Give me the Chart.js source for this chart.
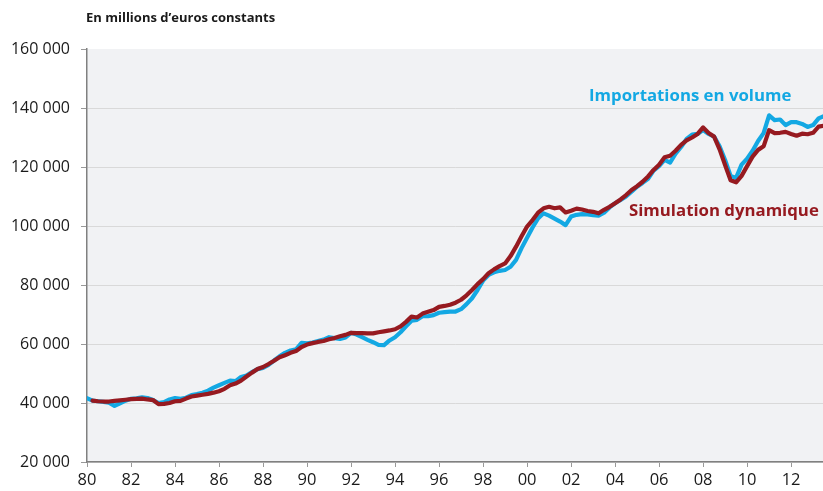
<!DOCTYPE html>
<html><head><meta charset="utf-8">
<script src="https://cdn.jsdelivr.net/npm/chart.js@4"></script>
<style>html,body{margin:0;padding:0;background:#fff}#wrap{width:823px;height:491px;position:relative}</style>
</head><body><div id="wrap"><canvas id="c" width="823" height="491"></canvas></div>
<script>
// Quarterly series, first value = 1980 Q1 (thousands of millions of constant euros)
const START_YEAR = 1980;
const importations = [
  41.6, 40.8, 40.6, 40.4,   // 1980
  40.1, 39.0, 39.9, 40.8,   // 1981
  41.4, 41.6, 41.9, 41.7,   // 1982
  41.0, 40.0, 40.3, 41.2,   // 1983
  41.7, 41.4, 41.8, 42.7,   // 1984
  43.0, 43.5, 44.2, 45.2,   // 1985
  46.0, 46.8, 47.6, 47.4,   // 1986
  48.8, 49.3, 50.5, 51.5,   // 1987
  51.9, 52.9, 54.4, 55.8,   // 1988
  57.0, 57.8, 58.2, 60.4,   // 1989
  60.2, 60.5, 61.0, 61.5,   // 1990
  62.3, 62.0, 61.7, 62.2,   // 1991
  63.8, 63.2, 62.3, 61.4,   // 1992
  60.6, 59.7, 59.6, 61.2,   // 1993
  62.3, 64.0, 66.0, 67.9,   // 1994
  68.2, 69.4, 69.4, 69.8,   // 1995
  70.6, 70.8, 71.0, 71.0,   // 1996
  71.8, 73.5, 75.5, 78.3,   // 1997
  81.5, 83.4, 84.3, 84.8,   // 1998
  85.1, 86.2, 88.5, 92.5,   // 1999
  96.0, 99.5, 102.6, 104.3, // 2000
  103.5, 102.5, 101.5, 100.3, // 2001
  103.2, 103.8, 104.0, 103.9, // 2002
  103.7, 103.5, 104.5, 106.3, // 2003
  107.7, 108.8, 110.0, 111.6, // 2004
  113.3, 114.6, 116.0, 118.8, // 2005
  120.3, 122.4, 121.5, 124.5, // 2006
  126.8, 129.5, 131.0, 131.2, // 2007
  132.5, 131.2, 130.3, 127.0, // 2008
  122.4, 117.0, 116.3, 120.8, // 2009
  122.8, 125.5, 128.8, 131.5, // 2010
  137.5, 135.9, 136.1, 134.2, // 2011
  135.2, 135.2, 134.6, 133.6, // 2012
  134.2, 136.5, 137.3         // 2013
];
const simulation = [
  null, 40.8, 40.6, 40.5,   // 1980
  40.5, 40.7, 40.9, 41.1,   // 1981
  41.3, 41.4, 41.5, 41.2,   // 1982
  41.0, 39.6, 39.7, 40.0,   // 1983
  40.6, 40.7, 41.5, 42.2,   // 1984
  42.5, 42.8, 43.1, 43.5,   // 1985
  44.0, 44.8, 46.0, 46.6,   // 1986
  47.6, 49.0, 50.3, 51.5,   // 1987
  52.2, 53.2, 54.3, 55.5,   // 1988
  56.2, 57.0, 57.6, 59.0,   // 1989
  59.8, 60.3, 60.7, 61.0,   // 1990
  61.6, 62.0, 62.6, 63.1,   // 1991
  63.8, 63.7, 63.7, 63.6,   // 1992
  63.6, 64.0, 64.3, 64.6,   // 1993
  65.0, 66.0, 67.5, 69.3,   // 1994
  69.0, 70.3, 70.9, 71.5,   // 1995
  72.6, 72.9, 73.3, 74.0,   // 1996
  75.0, 76.5, 78.3, 80.3,   // 1997
  82.0, 84.0, 85.3, 86.4,   // 1998
  87.3, 89.8, 93.0, 96.5,   // 1999
  99.8, 102.0, 104.5, 106.0, // 2000
  106.5, 106.0, 106.3, 104.6, // 2001
  105.2, 105.9, 105.6, 105.1, // 2002
  104.8, 104.3, 105.5, 106.5, // 2003
  107.7, 109.0, 110.5, 112.2, // 2004
  113.5, 115.0, 116.8, 119.0, // 2005
  120.8, 123.3, 123.8, 125.5, // 2006
  127.5, 129.0, 130.0, 131.2, // 2007
  133.4, 131.5, 130.3, 126.0, // 2008
  120.7, 115.5, 114.8, 117.0, // 2009
  120.3, 123.5, 125.8, 127.0, // 2010
  132.5, 131.5, 131.6, 131.9, // 2011
  131.2, 130.6, 131.3, 131.1, // 2012
  131.6, 133.7, 134.0         // 2013
];
const xTickYears = [1980,1982,1984,1986,1988,1990,1992,1994,1996,1998,2000,2002,2004,2006,2008,2010,2012];
const yTickValues = [20000,40000,60000,80000,100000,120000,140000,160000];
const titleText = "En millions d\u2019euros constants";
const labelImport = "Importations en volume";
const labelSim = "Simulation dynamique";

const BLUE = '#13a8e3';
const RED = '#961a20';
const FONT = "'Open Sans', sans-serif";

const toPoints = arr => arr.map((v, i) => ({x: START_YEAR + i / 4, y: v === null ? null : v * 1000}));

const bgPlugin = {
  id: 'bg',
  beforeDraw(chart) {
    const {ctx, chartArea: a} = chart;
    ctx.save();
    ctx.fillStyle = '#f1f2f4';
    ctx.fillRect(a.left, a.top, a.right - a.left, a.bottom - a.top);
    ctx.restore();
  },
  afterDraw(chart) {
    const {ctx} = chart;
    ctx.save();
    ctx.textBaseline = 'middle';
    ctx.fillStyle = '#1a1a1a';
    ctx.font = "bold 13px " + FONT;
    ctx.fillText(titleText, 86, 18);
    ctx.font = "bold 16.8px " + FONT;
    ctx.fillStyle = BLUE;
    ctx.fillText(labelImport, 589, 96);
    ctx.fillStyle = RED;
    ctx.fillText(labelSim, 629, 211);
    ctx.restore();
  }
};

new Chart(document.getElementById('c'), {
  type: 'line',
  data: {
    datasets: [
      {label: labelImport, order: 2, data: toPoints(importations), borderColor: BLUE, borderWidth: 4.2, pointRadius: 0, tension: 0, borderJoinStyle: 'round', borderCapStyle: 'round'},
      {label: labelSim, order: 1, data: toPoints(simulation), borderColor: RED, borderWidth: 4.2, pointRadius: 0, tension: 0, borderJoinStyle: 'round', borderCapStyle: 'round'}
    ]
  },
  options: {
    responsive: false,
    animation: false,
    devicePixelRatio: 1,
    layout: {padding: {top: 49, right: 0, left: 0, bottom: 0}},
    plugins: {legend: {display: false}, tooltip: {enabled: false}},
    scales: {
      x: {
        type: 'linear', min: 1980, max: 2013.45,
        afterFit: s => { s.height = 29; },
        afterBuildTicks: s => { s.ticks = xTickYears.map(v => ({value: v})); },
        ticks: {
          callback: v => String(v % 100).padStart(2, '0'),
          font: {family: FONT, size: 16.5}, color: '#1a1a1a', padding: 3, maxRotation: 0, autoSkip: false
        },
        grid: {drawOnChartArea: false, tickLength: 5, tickColor: '#999', tickWidth: 1},
        border: {color: '#808080', width: 1.5}
      },
      y: {
        min: 20000, max: 160000,
        afterFit: s => { s.width = 87; },
        afterBuildTicks: s => { s.ticks = yTickValues.map(v => ({value: v})); },
        ticks: {
          callback: v => String(v).replace(/\B(?=(\d{3})+(?!\d))/g, ' '),
          font: {family: FONT, size: 16}, color: '#1a1a1a', padding: 11
        },
        grid: {
          color: c => (c.tick && c.tick.value === 160000) ? 'rgba(0,0,0,0)' : '#d9d9d9',
          lineWidth: 1, tickLength: 6, tickColor: '#999'
        },
        border: {color: '#808080', width: 1.5}
      }
    }
  },
  plugins: [bgPlugin]
});
</script>
</body></html>
